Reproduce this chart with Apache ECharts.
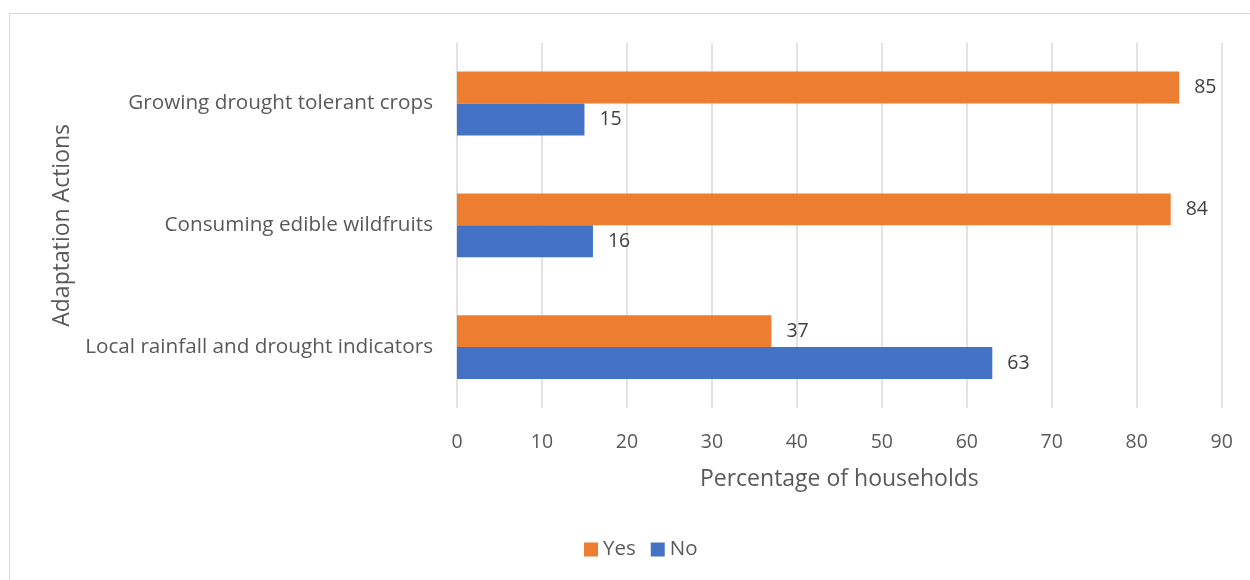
<!DOCTYPE html>
<html><head><meta charset="utf-8">
<script src="https://cdn.jsdelivr.net/npm/echarts@6/dist/echarts.min.js"></script>
<style>html,body{margin:0;padding:0;background:#fff}#c{width:1250px;height:580px}
#frame{position:absolute;left:9px;top:13px;width:1260px;height:600px;border:1.5px solid #d9d9d9;pointer-events:none}</style>
</head><body><div id="c"></div><div id="frame"></div>
<script>
const categories = ["Growing drought tolerant crops", "Consuming edible wildfruits", "Local rainfall and drought indicators"];
const yesValues = [85, 84, 37];
const noValues = [15, 16, 63];
const seriesNames = ["Yes", "No"];
const xTicks = {min: 0, max: 90, interval: 10};
const FONT = "'Open Sans', sans-serif";
const chart = echarts.init(document.getElementById('c'));
const lbl = {show: true, position: 'right', distance: 15, color: '#404040', fontSize: 19.5, fontFamily: FONT};
chart.setOption({
  animation: false,
  textStyle: {fontFamily: FONT},
  grid: {left: 457, right: 28.3, top: 42.7, bottom: 172},
  legend: {data: seriesNames, bottom: 15, left: 579, itemWidth: 14, itemHeight: 14, itemGap: 15,
    icon: 'rect', textStyle: {fontSize: 20.5, color: '#595959', fontFamily: FONT}},
  xAxis: {type: 'value', min: xTicks.min, max: xTicks.max, interval: xTicks.interval,
    name: 'Percentage of households', nameLocation: 'middle', nameGap: 60,
    nameTextStyle: {fontSize: 23, color: '#595959', fontFamily: FONT},
    axisLine: {show: false}, axisTick: {show: false},
    axisLabel: {fontSize: 19.5, color: '#595959', margin: 24, fontFamily: FONT},
    splitLine: {lineStyle: {color: '#d9d9d9', width: 1.5}}},
  yAxis: {type: 'category', data: categories, inverse: true,
    name: 'Adaptation Actions', nameLocation: 'middle', nameGap: 382, nameRotate: 90,
    nameTextStyle: {fontSize: 23, color: '#595959', fontFamily: FONT},
    axisLine: {show: false}, axisTick: {show: false},
    axisLabel: {fontSize: 20.7, color: '#595959', margin: 24, fontFamily: FONT}},
  series: [
    {name: seriesNames[0], type: 'bar', data: yesValues, barCategoryGap: '47.5%', barGap: '0%',
     itemStyle: {color: '#ED7D31'}, label: lbl},
    {name: seriesNames[1], type: 'bar', data: noValues, barCategoryGap: '47.5%', barGap: '0%',
     itemStyle: {color: '#4472C4'}, label: lbl}
  ]
});
</script></body></html>
